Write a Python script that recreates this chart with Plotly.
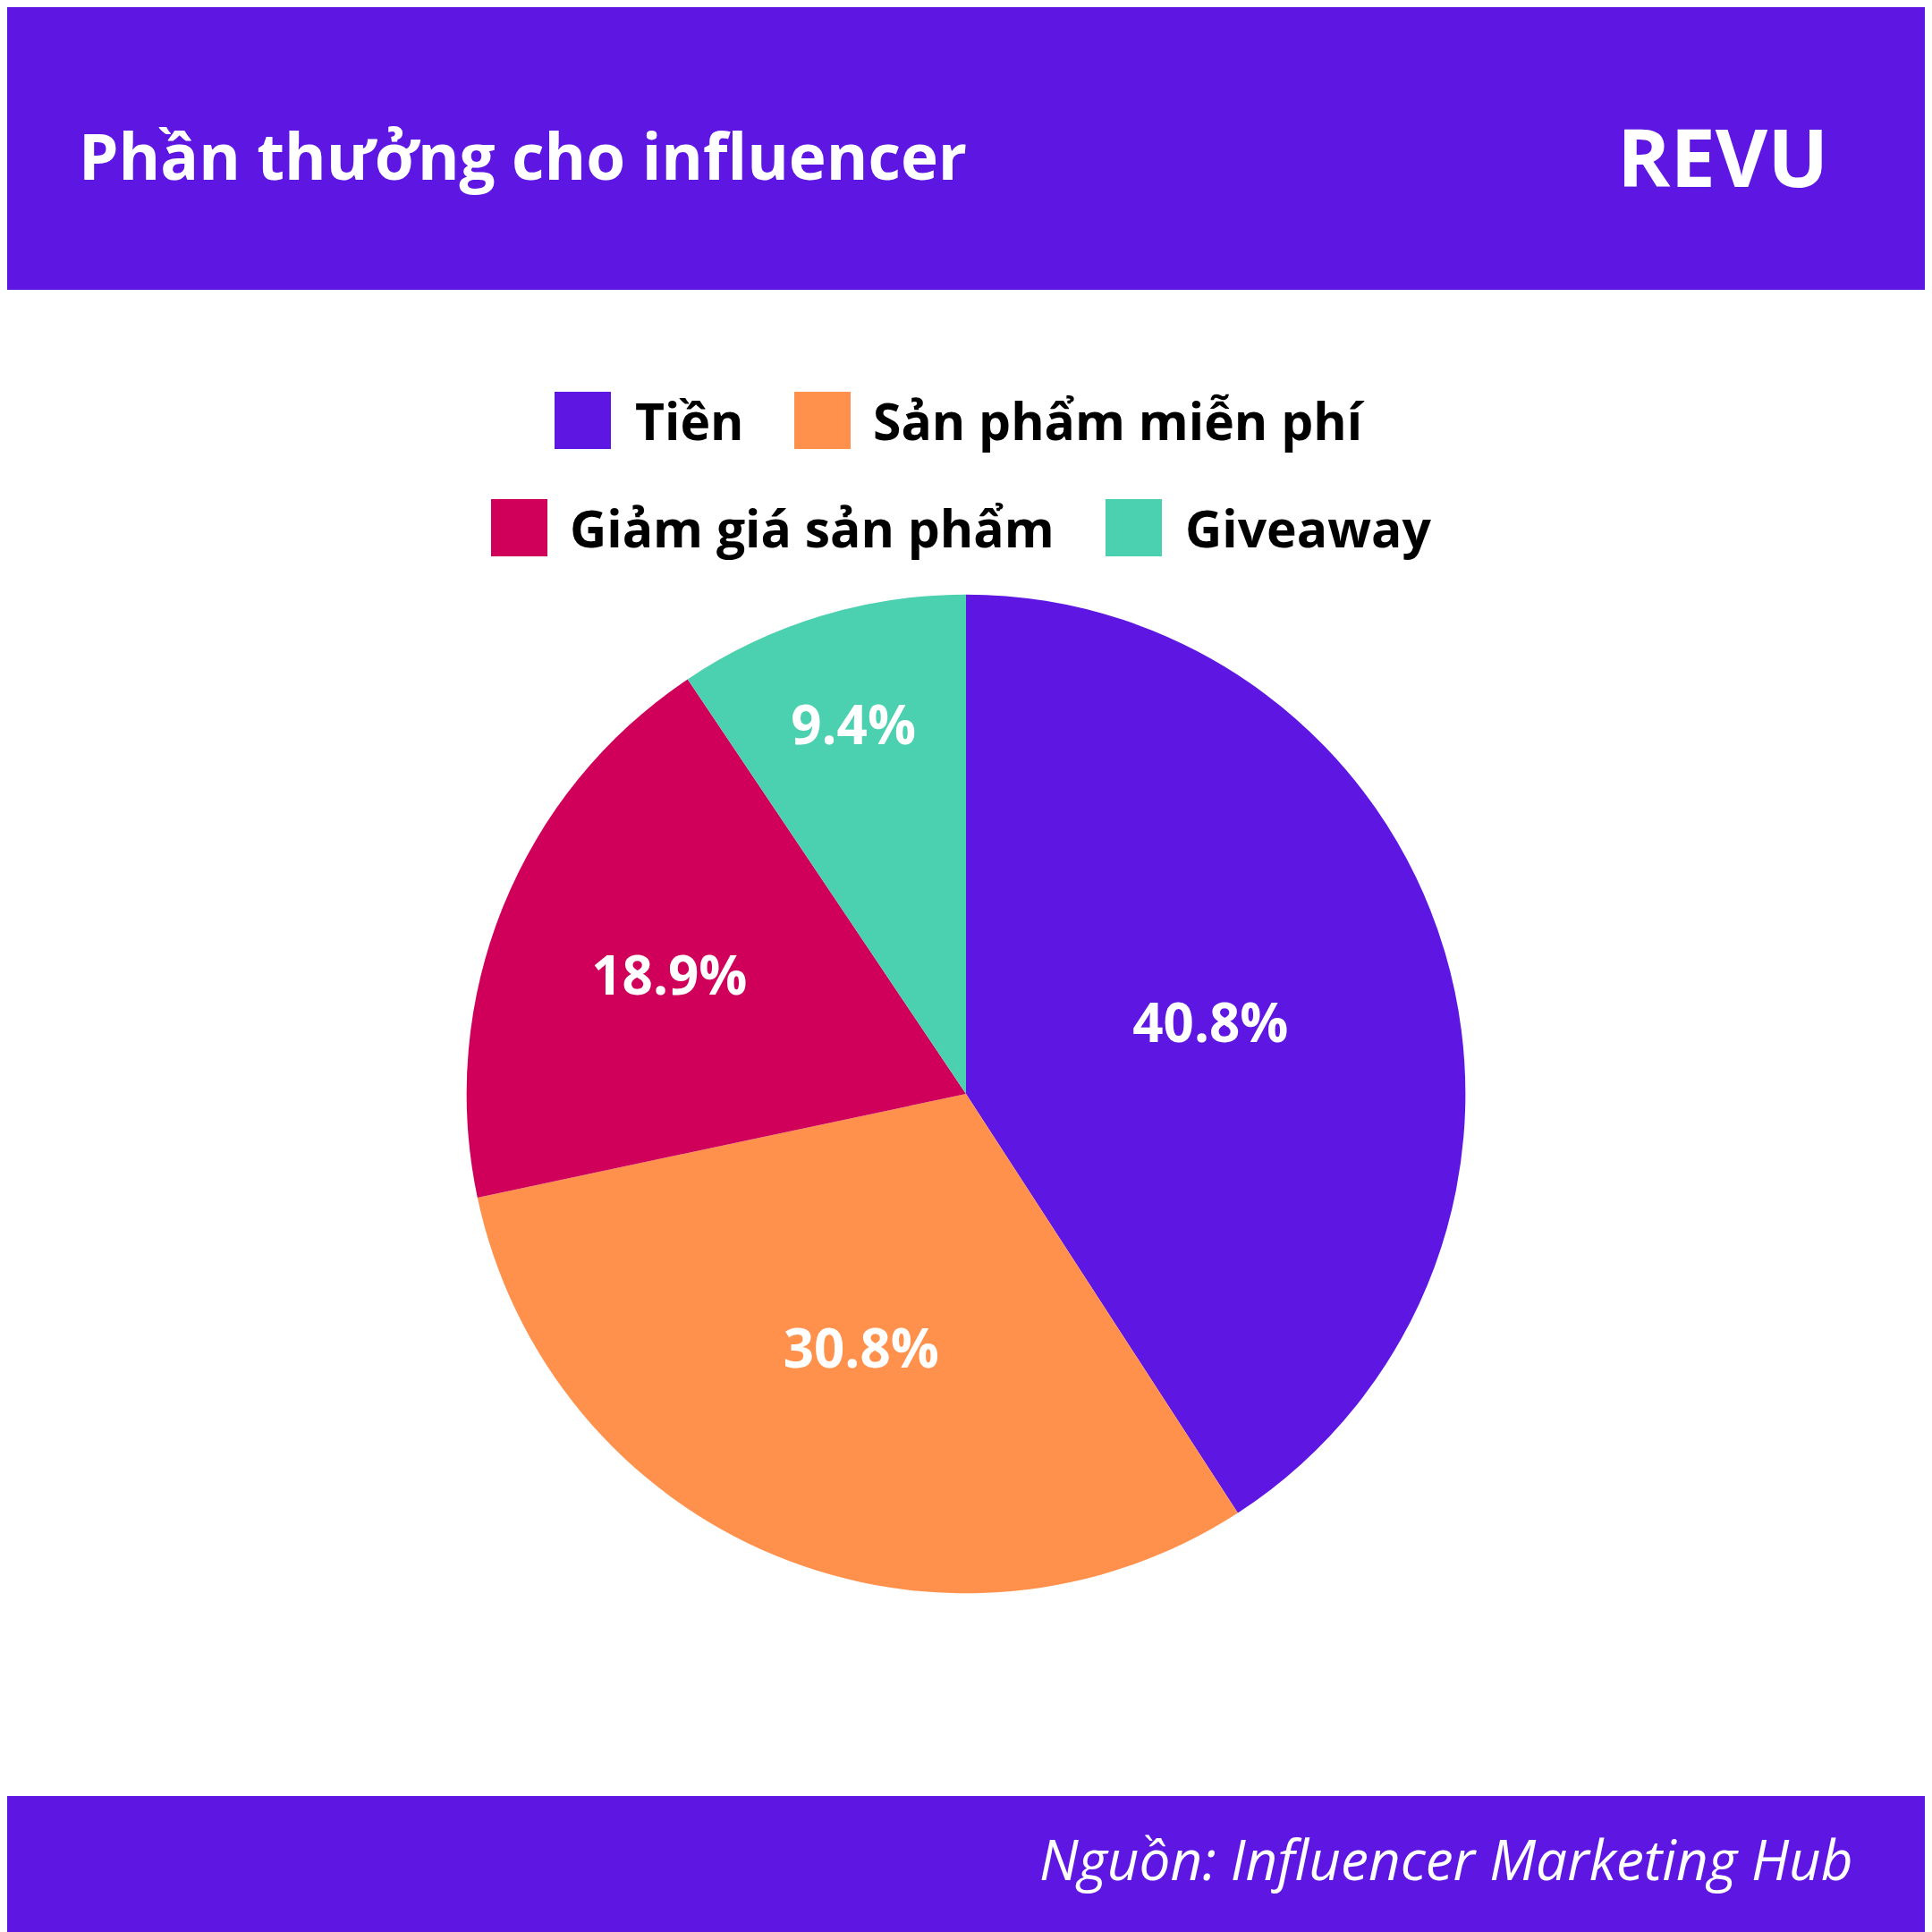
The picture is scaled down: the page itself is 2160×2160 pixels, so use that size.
import plotly.graph_objects as go

labels = ['Tiền', 'Sản phẩm miễn phí', 'Giảm giá sản phẩm', 'Giveaway']
values = [40.8, 30.8, 18.9, 9.4]
colors = ['#5E17E3', '#FF914D', '#D0005A', '#4BD0B0']
font = 'Open Sans'
W = 2160

fig = go.Figure()
fig.add_trace(go.Pie(
    labels=labels, values=values, sort=False, direction='clockwise', rotation=0,
    marker=dict(colors=colors, line=dict(width=0)),
    text=[f'{v}%' for v in values], textinfo='text', textposition='inside',
    insidetextorientation='horizontal',
    textfont=dict(family=font, size=60, color='white', weight='bold'),
    domain=dict(x=[0.2378, 0.7548], y=[0.1790, 0.6960]),
    showlegend=False, hoverinfo='label+text',
))

shapes = [
    dict(type='rect', xref='paper', yref='paper', x0=0, x1=1, y0=1 - 316 / W, y1=1,
         fillcolor='#5E17E3', line=dict(width=0), layer='below'),
    dict(type='rect', xref='paper', yref='paper', x0=0, x1=1, y0=0, y1=160 / W,
         fillcolor='#5E17E3', line=dict(width=0), layer='below'),
]
annotations = [
    dict(text='Phần thưởng cho influencer', x=78 / W, y=1 - 166 / W, xanchor='left', yanchor='middle',
         font=dict(family=font, size=71, color='white', weight='bold')),
    dict(text='REVU', x=2038 / W, y=1 - 166 / W, xanchor='right', yanchor='middle',
         font=dict(family=font, size=90, color='white', weight='bold')),
    dict(text='<i>Nguồn: Influencer Marketing Hub</i>', x=2066 / W, y=1 - 2070 / W,
         xanchor='right', yanchor='middle', font=dict(family=font, size=62, color='white')),
]

# legend: square x-start, text x-start, row center y (pixels from top)
legend_pos = [(612, 700, 462), (880, 966, 462), (541, 627, 582), (1228, 1315, 582)]
for lab, col, (sx, tx, cy) in zip(labels, colors, legend_pos):
    shapes.append(dict(type='rect', xref='paper', yref='paper', x0=sx / W, x1=(sx + 63) / W,
                       y0=1 - (cy + 32) / W, y1=1 - (cy - 32) / W, fillcolor=col, line=dict(width=0)))
    annotations.append(dict(text=lab, x=tx / W, y=1 - cy / W, xanchor='left', yanchor='middle',
                            font=dict(family=font, size=57, color='black', weight='bold')))

for a in annotations:
    a.update(xref='paper', yref='paper', showarrow=False)

fig.update_layout(width=W, height=W, margin=dict(l=0, r=0, t=0, b=0),
                  paper_bgcolor='white', plot_bgcolor='white',
                  shapes=shapes, annotations=annotations)
fig.write_html('out.html')
